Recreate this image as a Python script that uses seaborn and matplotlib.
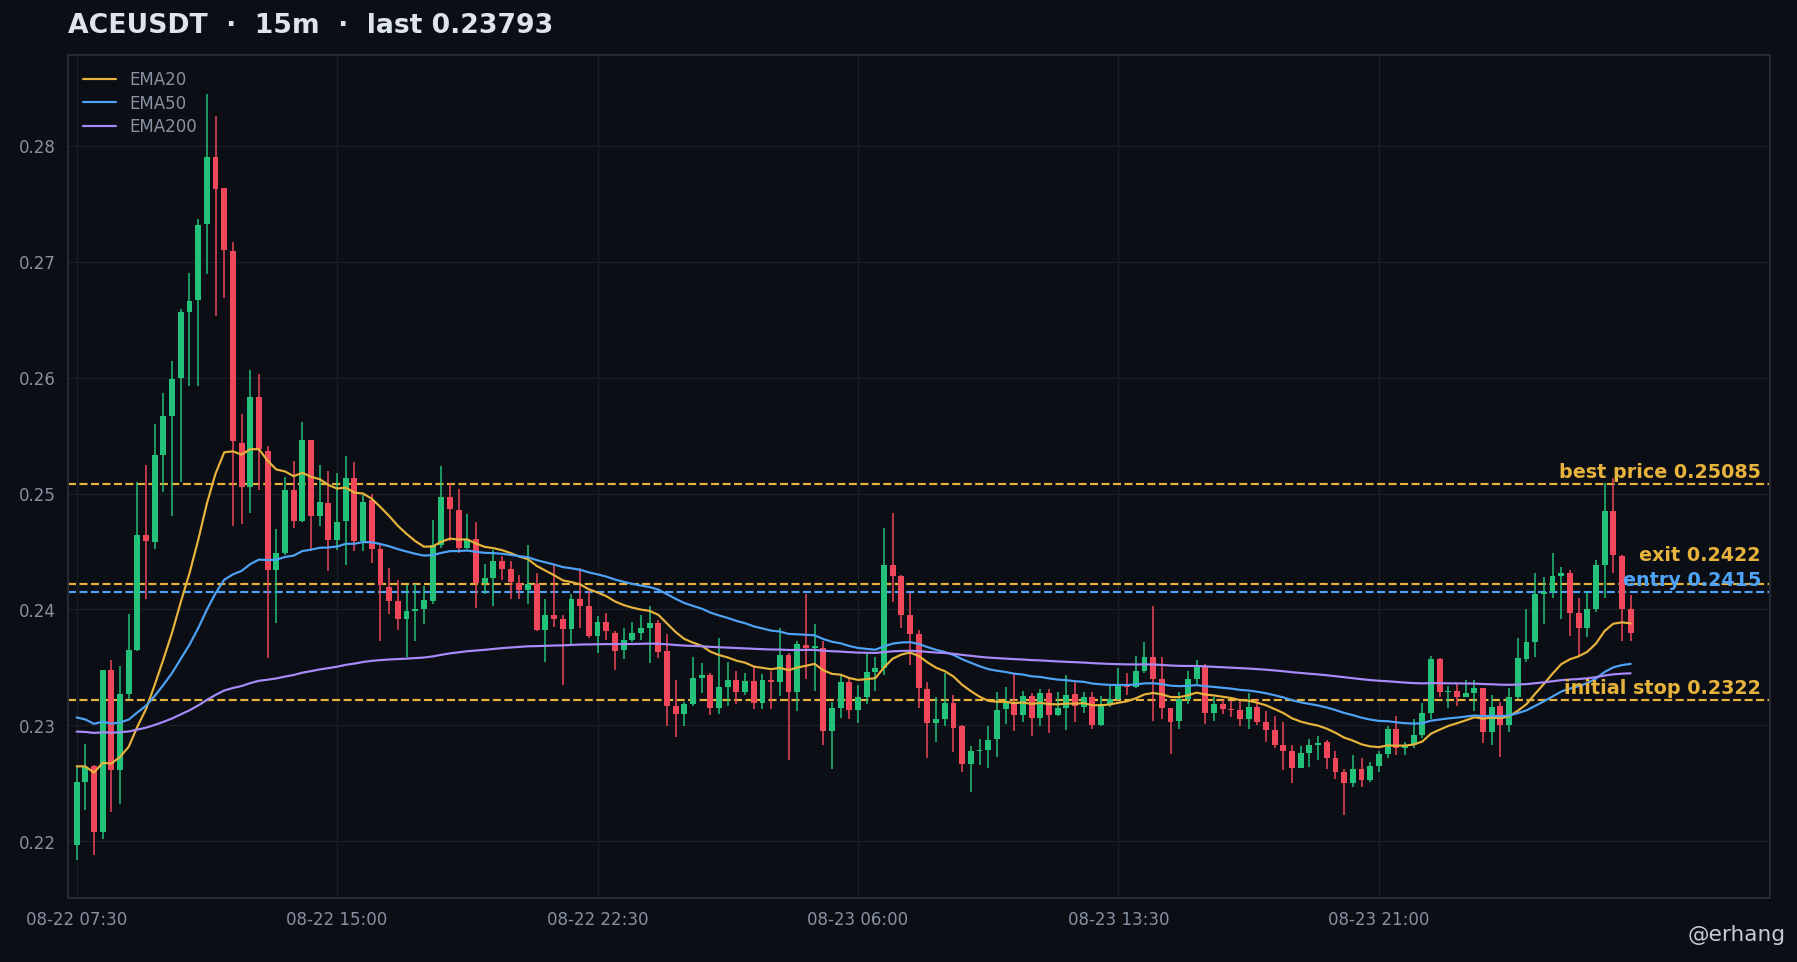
import numpy as np
import pandas as pd
import matplotlib
matplotlib.use("Agg")
import matplotlib.pyplot as plt
import seaborn as sns

SYMBOL = "ACEUSDT"
INTERVAL = "15m"
START = "2024-08-22 07:30"

opens = [
    0.2197, 0.2251, 0.2265, 0.2208, 0.2348, 0.2261, 0.2327, 0.2365, 0.2464, 0.2458,
    0.2533, 0.2567, 0.2600, 0.2657, 0.2667, 0.2733, 0.2790, 0.2764, 0.2709, 0.2544,
    0.2506, 0.2583, 0.2537, 0.2434, 0.2449, 0.2503, 0.2476, 0.2546, 0.2481, 0.2492,
    0.2460, 0.2476, 0.2513, 0.2459, 0.2494, 0.2452, 0.2419, 0.2407, 0.2392, 0.2399,
    0.2400, 0.2407, 0.2456, 0.2497, 0.2486, 0.2453, 0.2461, 0.2423, 0.2427, 0.2442,
    0.2435, 0.2423, 0.2417, 0.2422, 0.2382, 0.2395, 0.2392, 0.2383, 0.2409, 0.2403,
    0.2377, 0.2389, 0.2380, 0.2365, 0.2374, 0.2380, 0.2384, 0.2388, 0.2364, 0.2317,
    0.2310, 0.2318, 0.2341, 0.2343, 0.2315, 0.2333, 0.2339, 0.2329, 0.2338, 0.2319,
    0.2339, 0.2337, 0.2361, 0.2329, 0.2369, 0.2367, 0.2367, 0.2295, 0.2315, 0.2337,
    0.2313, 0.2324, 0.2346, 0.2349, 0.2438, 0.2429, 0.2395, 0.2379, 0.2331, 0.2302,
    0.2305, 0.2319, 0.2299, 0.2267, 0.2278, 0.2279, 0.2288, 0.2314, 0.2319, 0.2309,
    0.2325, 0.2306, 0.2328, 0.2309, 0.2315, 0.2327, 0.2316, 0.2324, 0.2300, 0.2318,
    0.2323, 0.2334, 0.2333, 0.2347, 0.2359, 0.2340, 0.2315, 0.2304, 0.2323, 0.2340,
    0.2351, 0.2311, 0.2318, 0.2314, 0.2313, 0.2305, 0.2316, 0.2303, 0.2296, 0.2283,
    0.2278, 0.2263, 0.2276, 0.2283, 0.2286, 0.2272, 0.2260, 0.2250, 0.2262, 0.2253,
    0.2265, 0.2275, 0.2297, 0.2280, 0.2283, 0.2292, 0.2311, 0.2357, 0.2329, 0.2330,
    0.2324, 0.2328, 0.2332, 0.2294, 0.2317, 0.2300, 0.2324, 0.2357, 0.2372, 0.2413,
    0.2415, 0.2429, 0.2431, 0.2397, 0.2384, 0.2400, 0.2438, 0.2485, 0.2446, 0.2400,
]
highs = [
    0.2264, 0.2284, 0.2266, 0.2348, 0.2356, 0.2351, 0.2396, 0.2510, 0.2525, 0.2560,
    0.2587, 0.2614, 0.2659, 0.2690, 0.2737, 0.2845, 0.2826, 0.2764, 0.2717, 0.2569,
    0.2607, 0.2603, 0.2541, 0.2469, 0.2514, 0.2528, 0.2562, 0.2546, 0.2525, 0.2519,
    0.2518, 0.2532, 0.2527, 0.2499, 0.2500, 0.2456, 0.2436, 0.2425, 0.2421, 0.2422,
    0.2420, 0.2477, 0.2524, 0.2509, 0.2504, 0.2482, 0.2475, 0.2439, 0.2451, 0.2446,
    0.2442, 0.2430, 0.2456, 0.2431, 0.2409, 0.2438, 0.2395, 0.2413, 0.2436, 0.2416,
    0.2394, 0.2397, 0.2381, 0.2384, 0.2389, 0.2395, 0.2403, 0.2391, 0.2379, 0.2339,
    0.2320, 0.2359, 0.2354, 0.2345, 0.2375, 0.2355, 0.2347, 0.2345, 0.2350, 0.2344,
    0.2347, 0.2384, 0.2362, 0.2373, 0.2413, 0.2387, 0.2373, 0.2320, 0.2343, 0.2341,
    0.2335, 0.2362, 0.2359, 0.2470, 0.2483, 0.2430, 0.2414, 0.2382, 0.2337, 0.2324,
    0.2345, 0.2326, 0.2300, 0.2282, 0.2288, 0.2299, 0.2329, 0.2333, 0.2344, 0.2330,
    0.2328, 0.2331, 0.2331, 0.2329, 0.2343, 0.2338, 0.2329, 0.2329, 0.2325, 0.2334,
    0.2349, 0.2345, 0.2360, 0.2372, 0.2403, 0.2359, 0.2315, 0.2329, 0.2347, 0.2356,
    0.2353, 0.2324, 0.2322, 0.2321, 0.2321, 0.2328, 0.2322, 0.2312, 0.2308, 0.2303,
    0.2283, 0.2282, 0.2288, 0.2291, 0.2287, 0.2278, 0.2262, 0.2274, 0.2272, 0.2268,
    0.2278, 0.2299, 0.2308, 0.2286, 0.2305, 0.2319, 0.2360, 0.2358, 0.2334, 0.2336,
    0.2339, 0.2339, 0.2332, 0.2326, 0.2320, 0.2332, 0.2375, 0.2400, 0.2431, 0.2428,
    0.2449, 0.2437, 0.2434, 0.2410, 0.2416, 0.2443, 0.2509, 0.2513, 0.2447, 0.2412,
]
lows = [
    0.2184, 0.2227, 0.2188, 0.2202, 0.2225, 0.2232, 0.2323, 0.2364, 0.2409, 0.2452,
    0.2501, 0.2481, 0.2510, 0.2593, 0.2593, 0.2689, 0.2653, 0.2669, 0.2472, 0.2474,
    0.2483, 0.2503, 0.2358, 0.2388, 0.2447, 0.2470, 0.2475, 0.2450, 0.2472, 0.2433,
    0.2451, 0.2438, 0.2450, 0.2450, 0.2440, 0.2373, 0.2396, 0.2382, 0.2359, 0.2373,
    0.2387, 0.2405, 0.2453, 0.2459, 0.2449, 0.2452, 0.2401, 0.2413, 0.2403, 0.2425,
    0.2409, 0.2409, 0.2405, 0.2381, 0.2355, 0.2385, 0.2335, 0.2369, 0.2384, 0.2375,
    0.2362, 0.2374, 0.2348, 0.2357, 0.2372, 0.2374, 0.2354, 0.2358, 0.2299, 0.2290,
    0.2299, 0.2317, 0.2328, 0.2309, 0.2310, 0.2317, 0.2318, 0.2326, 0.2314, 0.2314,
    0.2314, 0.2325, 0.2270, 0.2312, 0.2340, 0.2330, 0.2283, 0.2262, 0.2306, 0.2305,
    0.2302, 0.2318, 0.2330, 0.2343, 0.2406, 0.2384, 0.2352, 0.2315, 0.2272, 0.2286,
    0.2299, 0.2277, 0.2260, 0.2242, 0.2266, 0.2263, 0.2273, 0.2301, 0.2295, 0.2303,
    0.2291, 0.2299, 0.2293, 0.2308, 0.2296, 0.2303, 0.2311, 0.2297, 0.2299, 0.2316,
    0.2322, 0.2326, 0.2332, 0.2345, 0.2304, 0.2305, 0.2275, 0.2297, 0.2318, 0.2336,
    0.2301, 0.2304, 0.2310, 0.2307, 0.2299, 0.2297, 0.2300, 0.2286, 0.2280, 0.2261,
    0.2250, 0.2263, 0.2264, 0.2270, 0.2262, 0.2254, 0.2223, 0.2247, 0.2247, 0.2251,
    0.2260, 0.2272, 0.2274, 0.2274, 0.2280, 0.2289, 0.2305, 0.2324, 0.2315, 0.2317,
    0.2324, 0.2312, 0.2285, 0.2283, 0.2273, 0.2294, 0.2323, 0.2355, 0.2359, 0.2387,
    0.2410, 0.2392, 0.2377, 0.2361, 0.2376, 0.2398, 0.2410, 0.2431, 0.2373, 0.2373,
]
closes = [
    0.2251, 0.2264, 0.2208, 0.2348, 0.2261, 0.2327, 0.2365, 0.2464, 0.2459, 0.2533,
    0.2567, 0.2599, 0.2657, 0.2666, 0.2732, 0.2790, 0.2763, 0.2710, 0.2545, 0.2506,
    0.2583, 0.2538, 0.2434, 0.2449, 0.2503, 0.2476, 0.2546, 0.2481, 0.2493, 0.2460,
    0.2475, 0.2513, 0.2459, 0.2493, 0.2452, 0.2421, 0.2407, 0.2392, 0.2399, 0.2400,
    0.2408, 0.2456, 0.2497, 0.2487, 0.2453, 0.2461, 0.2423, 0.2427, 0.2442, 0.2435,
    0.2424, 0.2417, 0.2422, 0.2382, 0.2395, 0.2392, 0.2383, 0.2409, 0.2403, 0.2377,
    0.2389, 0.2381, 0.2364, 0.2374, 0.2380, 0.2384, 0.2388, 0.2363, 0.2317, 0.2310,
    0.2318, 0.2341, 0.2343, 0.2315, 0.2333, 0.2339, 0.2329, 0.2338, 0.2319, 0.2339,
    0.2337, 0.2361, 0.2329, 0.2370, 0.2367, 0.2368, 0.2295, 0.2315, 0.2337, 0.2313,
    0.2324, 0.2346, 0.2349, 0.2438, 0.2429, 0.2395, 0.2379, 0.2332, 0.2302, 0.2305,
    0.2319, 0.2298, 0.2267, 0.2278, 0.2279, 0.2287, 0.2313, 0.2319, 0.2309, 0.2325,
    0.2306, 0.2328, 0.2309, 0.2315, 0.2326, 0.2317, 0.2324, 0.2300, 0.2318, 0.2323,
    0.2334, 0.2333, 0.2347, 0.2359, 0.2340, 0.2315, 0.2303, 0.2323, 0.2340, 0.2351,
    0.2311, 0.2318, 0.2314, 0.2313, 0.2305, 0.2316, 0.2303, 0.2296, 0.2283, 0.2278,
    0.2263, 0.2276, 0.2283, 0.2285, 0.2272, 0.2260, 0.2250, 0.2262, 0.2253, 0.2265,
    0.2275, 0.2297, 0.2280, 0.2283, 0.2292, 0.2311, 0.2357, 0.2329, 0.2330, 0.2324,
    0.2328, 0.2332, 0.2294, 0.2316, 0.2300, 0.2324, 0.2358, 0.2372, 0.2413, 0.2415,
    0.2429, 0.2431, 0.2397, 0.2384, 0.2400, 0.2438, 0.2485, 0.2447, 0.2400, 0.23793,
]

# EMA values at the first visible candle (history before the window)
ema_spans = [20, 50, 200]
ema_seeds = [0.2266, 0.2309, 0.2295]

level_names = ["best price", "exit", "entry", "initial stop"]
level_values = [0.25085, 0.2422, 0.2415, 0.2322]

BG = "#0b0e14"
UP = "#22c27a"
DOWN = "#f0475b"
GOLD = "#e8b33c"
BLUE = "#4ea3f7"
PURPLE = "#a78bfa"
TEXT = "#8892a4"

sns.set_theme(style="dark", rc={
    "figure.facecolor": BG,
    "axes.facecolor": BG,
    "axes.edgecolor": "#252b36",
    "grid.color": "#181d26",
    "xtick.color": TEXT,
    "ytick.color": TEXT,
    "text.color": TEXT,
})
plt.rcParams["font.family"] = ["DejaVu Sans"]

df = pd.DataFrame({"open": opens, "high": highs, "low": lows, "close": closes})
df["time"] = pd.date_range(START, periods=len(df), freq="15min")
df["i"] = np.arange(len(df))

ema_colors = [GOLD, BLUE, PURPLE]
for span, seed in zip(ema_spans, ema_seeds):
    s = pd.concat([pd.Series([seed]), df["close"]], ignore_index=True)
    df[f"EMA{span}"] = s.ewm(span=span, adjust=False).mean().iloc[1:].values

fig, ax = plt.subplots(figsize=(14.98, 8.02), dpi=120)
fig.subplots_adjust(left=0.0378, right=0.9844, top=0.942, bottom=0.0665)

up = df["close"] >= df["open"]
colors = np.where(up, UP, DOWN)

# wicks then bodies
ax.vlines(df["i"], df["low"], df["high"], colors=colors, lw=0.9, zorder=2)
body_low = df[["open", "close"]].min(axis=1)
body_h = (df["close"] - df["open"]).abs().clip(lower=0.00004)
ax.bar(df["i"], body_h, bottom=body_low, width=0.68, color=colors,
       linewidth=0, zorder=3)

for span, col in zip(ema_spans, ema_colors):
    sns.lineplot(data=df, x="i", y=f"EMA{span}", color=col, lw=1.3,
                 label=f"EMA{span}", ax=ax, zorder=4)

# exit label is lifted so it clears the entry label
label_lift = {"exit": 11.5}
for name, val in zip(level_names, level_values):
    col = BLUE if name == "entry" else GOLD
    ax.axhline(val, color=col, lw=1.3, ls="--", zorder=1.5)
    ax.annotate(f"{name} {val:g}", xy=(194, val),
                xytext=(0, label_lift.get(name, 1.5)),
                textcoords="offset points", ha="right", va="bottom",
                color=col, fontsize=11.5, fontweight="bold", zorder=6)

ax.set_xlim(-1, len(df) + 15)
ax.margins(y=0.05)
ticks = list(range(0, len(df), 30))
ax.set_xticks(ticks)
ax.set_xticklabels([df["time"][t].strftime("%m-%d %H:%M") for t in ticks])
ax.set_yticks(np.arange(0.22, 0.285, 0.01))
ax.yaxis.set_major_formatter(matplotlib.ticker.FormatStrFormatter("%.2f"))
ax.grid(True, color="#181d26", lw=0.8)
ax.tick_params(axis="both", labelsize=10, colors="#5d6575", labelcolor=TEXT,
               length=4, width=1)
ax.set_xlabel("")
ax.set_ylabel("")
for sp in ax.spines.values():
    sp.set_color("#252b36")
    sp.set_linewidth(1.2)

leg = ax.legend(loc="upper left", frameon=False, fontsize=10, labelspacing=0.35)
for t in leg.get_texts():
    t.set_color(TEXT)

fig.text(0.0378, 0.973, f"{SYMBOL}  ·  {INTERVAL}  ·  last {closes[-1]}",
         ha="left", va="center", fontsize=16, fontweight="bold", color="#dde4ee")
fig.text(0.9935, 0.028, "@erhang", ha="right", va="center", fontsize=13,
         color="#c5cad3")

fig.savefig("out.png", dpi=120, facecolor=BG)
